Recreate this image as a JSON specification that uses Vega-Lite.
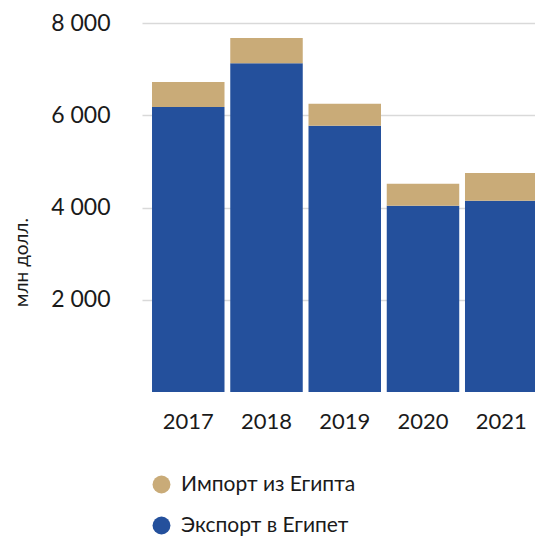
{
  "$schema": "https://vega.github.io/schema/vega-lite/v6.json",
  "autosize": "none",
  "width": 393,
  "height": 369,
  "padding": {"left": 142, "top": 23, "right": 0, "bottom": 145},
  "background": "white",
  "config": {
    "view": {"stroke": null},
    "font": "Lato"
  },
  "data": {
    "values": [
      {"year": "2017", "type": "Экспорт в Египет", "value": 6180},
      {"year": "2017", "type": "Импорт из Египта", "value": 540},
      {"year": "2018", "type": "Экспорт в Египет", "value": 7130},
      {"year": "2018", "type": "Импорт из Египта", "value": 545},
      {"year": "2019", "type": "Экспорт в Египет", "value": 5770},
      {"year": "2019", "type": "Импорт из Египта", "value": 478},
      {"year": "2020", "type": "Экспорт в Египет", "value": 4040},
      {"year": "2020", "type": "Импорт из Египта", "value": 475},
      {"year": "2021", "type": "Экспорт в Египет", "value": 4145},
      {"year": "2021", "type": "Импорт из Египта", "value": 605}
    ]
  },
  "mark": {"type": "bar"},
  "encoding": {
    "x": {
      "field": "year",
      "type": "ordinal",
      "scale": {"range": [0, 405.5], "paddingInner": 0.0735, "paddingOuter": 0.128},
      "axis": {
        "title": null,
        "labelAngle": 0,
        "domain": false,
        "ticks": false,
        "labelFontSize": 22,
        "labelColor": "#1a1a1a",
        "labelPadding": 19,
        "labelFont": "Lato"
      }
    },
    "y": {
      "field": "value",
      "type": "quantitative",
      "stack": "zero",
      "scale": {"domain": [0, 8000], "nice": false},
      "axis": {
        "values": [2000, 4000, 6000, 8000],
        "labelExpr": "replace(format(datum.value, ','), ',', ' ')",
        "domain": false,
        "ticks": false,
        "grid": true,
        "gridColor": "#d9d9d9",
        "gridWidth": 1.5,
        "labelFontSize": 23,
        "labelColor": "#1a1a1a",
        "labelPadding": 32,
        "labelFont": "Lato",
        "title": "млн долл.",
        "titleFont": "Lato",
        "titleFontSize": 19,
        "titleFontWeight": "normal",
        "titleColor": "#1a1a1a",
        "titleAngle": -90,
        "titleX": -121,
        "titleY": 239,
        "titleAlign": "center",
        "titleBaseline": "middle"
      }
    },
    "color": {
      "field": "type",
      "type": "nominal",
      "scale": {
        "domain": ["Импорт из Египта", "Экспорт в Египет"],
        "range": ["#c9ab78", "#24509c"]
      },
      "legend": {
        "title": null,
        "orient": "none",
        "legendX": 9,
        "legendY": 451,
        "direction": "vertical",
        "symbolType": "circle",
        "symbolSize": 320,
        "symbolStrokeWidth": 0,
        "labelFontSize": 21,
        "labelFont": "Lato",
        "labelColor": "#1a1a1a",
        "labelOffset": 9,
        "labelLimit": 400,
        "rowPadding": 19
      }
    },
    "order": {"field": "type", "sort": "descending"}
  }
}
